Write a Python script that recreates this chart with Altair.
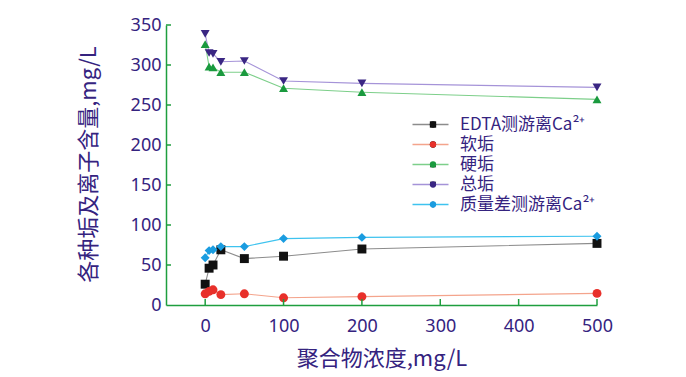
import altair as alt
import pandas as pd

# ---- data ----
conc = [0, 5, 10, 20, 50, 100, 200, 500]
edta = [26, 46, 50, 69, 58, 61, 70, 77]
soft = [14, 17, 19, 13, 14, 9, 10.5, 14.5]
hard = [326, 298, 297, 291, 291, 271, 266, 257]
total = [339, 315, 314, 304, 305, 280, 277, 272]
massdiff = [59, 68, 69, 73, 73, 83, 84.5, 86]

series_names = ["EDTA测游离Ca²⁺", "软垢", "硬垢", "总垢", "质量差测游离Ca²⁺"]
series_values = [edta, soft, hard, total, massdiff]
line_colors = ["#8c8c8c", "#f4a48c", "#7dcf8a", "#a593d8", "#3ec3ef"]
marker_colors = ["#111111", "#e8302a", "#1a9a3e", "#3a2683", "#1a9ce0"]
shapes = ["square", "circle", "triangle-up", "triangle-down", "diamond"]

x_ticks = [0, 100, 200, 300, 400, 500]
y_ticks = [0, 50, 100, 150, 200, 250, 300, 350]

rows = []
for name, vals in zip(series_names, series_values):
    for c, v in zip(conc, vals):
        rows.append({"conc": c, "value": v, "series": name, "series_m": name})
df = pd.DataFrame(rows)

GREEN = "#1e9e3e"
PURPLE = "#35237f"
CJK = "Noto Sans CJK SC"
W, H = 431, 280

xscale = alt.Scale(domain=[-50, 500], nice=False, zero=False)
yscale = alt.Scale(domain=[0, 350], nice=False)


def x_axis():
    return alt.Axis(values=x_ticks, ticks=False, tickSize=0, grid=False,
                    domainColor=GREEN, domainWidth=1.5,
                    labelColor=PURPLE, labelFont="Noto Sans", labelFontSize=18,
                    labelPadding=12, labelOverlap=False, labelFlush=False,
                    title="聚合物浓度,mg/L", titleFont=CJK, titleFontSize=22,
                    titleFontWeight="normal", titleColor=PURPLE,
                    titleX=W / 2, titleY=53, titleAlign="center",
                    titleBaseline="middle")


def y_axis():
    return alt.Axis(values=y_ticks, ticks=False, tickSize=0, grid=False,
                    domainColor=GREEN, domainWidth=1.5,
                    labelColor=PURPLE, labelFont="Noto Sans", labelFontSize=18,
                    labelPadding=5, labelOverlap=False, labelFlush=False,
                    title="各种垢及离子含量,mg/L", titleFont=CJK, titleFontSize=22,
                    titleFontWeight="normal", titleColor=PURPLE,
                    titleX=-78, titleY=H / 2 - 1, titleAngle=270,
                    titleAlign="center", titleBaseline="middle")


legA = alt.Legend(title=None, orient="none", legendX=256, legendY=91,
                  symbolType="M-3,0H3", symbolSize=144, symbolStrokeWidth=1.5,
                  labelFont=CJK, labelFontSize=17, labelColor=PURPLE,
                  labelOffset=21, rowPadding=2, padding=0, labelLimit=400)
legB = alt.Legend(title=None, orient="none", legendX=258.5, legendY=91,
                  symbolSize=40, symbolStrokeWidth=0,
                  labelFont=CJK, labelFontSize=17, labelExpr="''",
                  rowPadding=2, padding=0, labelLimit=400)

X = alt.X("conc:Q", scale=xscale, axis=x_axis())
Y = alt.Y("value:Q", scale=yscale, axis=y_axis())

lines = alt.Chart(df).mark_line(strokeWidth=1.1).encode(
    x=X, y=Y,
    stroke=alt.Stroke("series:N", sort=series_names,
                      scale=alt.Scale(range=line_colors), legend=legA),
)

points = alt.Chart(df).mark_point(filled=True, size=80, opacity=1).encode(
    x=alt.X("conc:Q", scale=xscale, axis=x_axis()),
    y=alt.Y("value:Q", scale=yscale, axis=y_axis()),
    fill=alt.Fill("series_m:N", sort=series_names,
                  scale=alt.Scale(range=marker_colors), legend=legB),
    shape=alt.Shape("series_m:N", sort=series_names,
                    scale=alt.Scale(range=shapes), legend=legB),
)

xt = alt.Chart(pd.DataFrame({"conc": x_ticks})).mark_rule(
    color=GREEN, strokeWidth=1.5).encode(
    x=alt.X("conc:Q", scale=xscale, axis=x_axis()),
    y=alt.value(H), y2=alt.value(H - 6))
yt = alt.Chart(pd.DataFrame({"value": y_ticks[1:]})).mark_rule(
    color=GREEN, strokeWidth=1.5).encode(
    y=alt.Y("value:Q", scale=yscale, axis=y_axis()),
    x=alt.value(0), x2=alt.value(5))

chart = alt.layer(lines, points, xt, yt).properties(
    width=W, height=H,
    autosize=alt.AutoSizeParams(type="none"),
    padding={"left": 166, "top": 25, "right": 89, "bottom": 72},
    background="white",
).configure_view(stroke=None)

chart.save("out.html", embed_options={"renderer": "svg", "actions": False})
